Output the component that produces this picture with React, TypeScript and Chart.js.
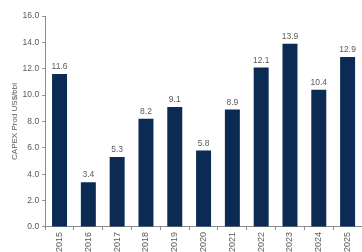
import React, { useEffect, useRef } from "react";
import { Chart, registerables } from "chart.js";

Chart.register(...registerables);

const categories = ["2015", "2016", "2017", "2018", "2019", "2020", "2021", "2022", "2023", "2024", "2025"];
const capexValues = [11.6, 3.4, 5.3, 8.2, 9.1, 5.8, 8.9, 12.1, 13.9, 10.4, 12.9];
const yAxisTitle = "CAPEX Prod US$/bbl";

const FONT = "'Liberation Sans', Arial, sans-serif";
const TEXT = "#5a5a5a";
const AXIS = "#8c8c8c";
const BAR = "#0b2b55";

const valueLabels = {
  id: "valueLabels",
  afterDatasetsDraw(chart: any) {
    const ctx = chart.ctx;
    const meta = chart.getDatasetMeta(0);
    ctx.save();
    ctx.font = `8.5px ${FONT}`;
    ctx.fillStyle = TEXT;
    ctx.textAlign = "center";
    ctx.textBaseline = "bottom";
    meta.data.forEach((el: any, i: number) => {
      const v = chart.data.datasets[0].data[i] as number;
      ctx.fillText(v.toFixed(1), el.x, el.y - 3);
    });
    ctx.restore();
  },
};

export default function App() {
  const ref = useRef<HTMLCanvasElement>(null);
  useEffect(() => {
    document.body.style.margin = "0";
    const chart = new Chart(ref.current!, {
      type: "bar",
      data: {
        labels: categories,
        datasets: [
          {
            data: capexValues,
            backgroundColor: BAR,
            barPercentage: 0.52,
            categoryPercentage: 1,
          },
        ],
      },
      options: {
        animation: false,
        responsive: false,
        maintainAspectRatio: false,
        layout: { padding: { left: 6, top: 16, right: 0, bottom: 0 } },
        plugins: { legend: { display: false }, tooltip: { enabled: false } },
        scales: {
          x: {
            grid: { display: true, drawOnChartArea: false, drawTicks: true, tickLength: 3, color: AXIS, offset: true },
            border: { display: true, color: AXIS },
            ticks: {
              color: TEXT,
              font: { family: FONT, size: 9 },
              minRotation: 90,
              maxRotation: 90,
              padding: 2,
              autoSkip: false,
            },
          },
          y: {
            min: 0,
            max: 16,
            grid: { display: true, drawOnChartArea: false, drawTicks: true, tickLength: 3, color: AXIS },
            border: { display: true, color: AXIS },
            ticks: {
              stepSize: 2,
              color: TEXT,
              font: { family: FONT, size: 8.5 },
              padding: 3,
              callback: (v: any) => Number(v).toFixed(1),
            },
            title: {
              display: true,
              text: yAxisTitle,
              color: TEXT,
              font: { family: FONT, size: 8 },
              padding: { top: 4, bottom: 0 },
            },
          },
        },
      },
      plugins: [valueLabels],
    });
    return () => chart.destroy();
  }, []);
  return <canvas ref={ref} width={362} height={254} style={{ display: "block" }} />;
}
